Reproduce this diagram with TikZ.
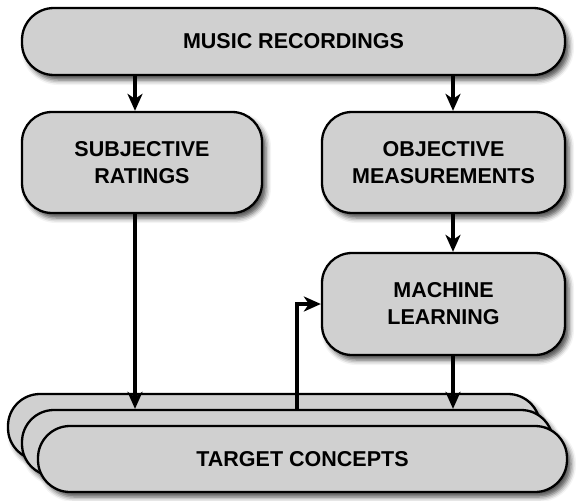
\documentclass[tikz,border=0pt]{standalone}
\usepackage{fontspec}
\setmainfont{Liberation Sans}
\usetikzlibrary{arrows.meta,shadows.blur,calc}
\definecolor{boxgray}{RGB}{208,208,208}
\tikzset{
  flowbox/.style={draw=black, line width=2.3pt, fill=boxgray, rounded corners=30pt,
    align=center, inner sep=0pt, font=\fontsize{21.5}{27}\selectfont\bfseries,
    blur shadow={shadow xshift=4pt, shadow yshift=-5pt, shadow blur radius=5pt, shadow opacity=70}},
  pill/.style={flowbox, rounded corners=32pt},
  arr/.style={line width=3.6pt, -{Stealth[length=17pt,width=15pt,inset=5pt]}},
}
\begin{document}
\begin{tikzpicture}[x=1pt,y=-1pt]
  \useasboundingbox (0,0) rectangle (580,500);
  % top source
  \node[pill, minimum width=543pt, minimum height=67pt] (music) at (293.5,41.5) {MUSIC RECORDINGS};
  % two middle branches
  \node[flowbox, minimum width=240pt, minimum height=101pt] (subj) at (142,162.5) {SUBJECTIVE\\RATINGS};
  \node[flowbox, minimum width=243pt, minimum height=101pt] (obj) at (443.5,162.5) {OBJECTIVE\\MEASUREMENTS};
  \node[flowbox, minimum width=243pt, minimum height=102pt] (ml) at (443.5,304) {MACHINE\\LEARNING};
  % stacked target concepts
  \node[pill, minimum width=532pt, minimum height=66pt] (tback) at (274,427) {};
  \node[pill, minimum width=531pt, minimum height=66pt] (tmid) at (287.5,443) {};
  \node[pill, minimum width=529pt, minimum height=66pt] (tfront) at (302.5,459) {TARGET CONCEPTS};
  % column positions of connectors
  \coordinate (lc) at (135,0);
  \coordinate (rc) at (453,0);
  \coordinate (fc) at (297,0);
  \draw[arr] (music.south -| lc) -- (subj.north -| lc);
  \draw[arr] (music.south -| rc) -- (obj.north -| rc);
  \draw[arr] (obj.south -| rc) -- (ml.north -| rc);
  \draw[arr] (subj.south -| lc) -- (tmid.north -| lc);
  \draw[arr] (ml.south -| rc) -- (tmid.north -| rc);
  \draw[arr] (tmid.north -| fc) |- (ml.west);
\end{tikzpicture}
\end{document}
